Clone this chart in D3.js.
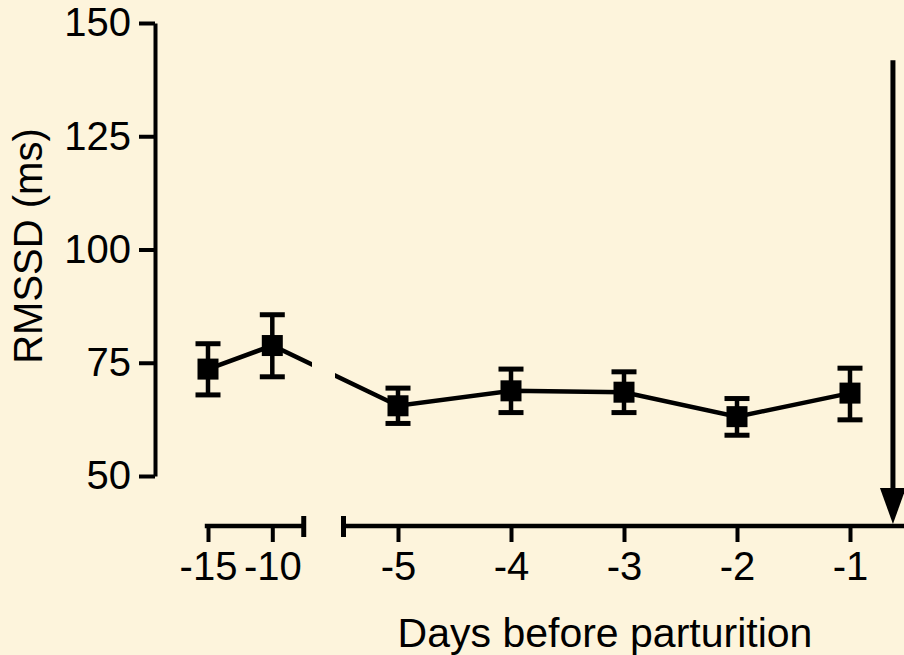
<!DOCTYPE html>
<html>
<head>
<meta charset="utf-8">
<script src="https://cdn.jsdelivr.net/npm/d3@7"></script>
<style>
  html, body { margin: 0; padding: 0; background: #FDF4DC; }
  svg { display: block; font-family: "Liberation Sans", Arial, sans-serif; }
</style>
</head>
<body>
<div id="my_dataviz"></div>
<script>

// data
var days   = [-15, -10, -5, -4, -3, -2, -1];
var means  = [73.6, 78.8, 65.5, 68.8, 68.5, 63.1, 68.3];
var upper  = [79.2, 85.6, 69.4, 73.6, 73.0, 67.1, 73.8];
var lower  = [67.9, 71.9, 61.6, 64.0, 64.0, 59.0, 62.4];
var yTicks = [50, 75, 100, 125, 150];
var xTicksEarly = [-15, -10];
var xTicksLate  = [-5, -4, -3, -2, -1];
var arrowDay = -0.62, arrowTop = 141.8;

var width = 904, height = 655;

var svg = d3.select("#my_dataviz")
  .append("svg")
    .attr("width", width)
    .attr("height", height);

// scales
var y = d3.scaleLinear().domain([50, 150]).range([476, 23]);
var x1 = d3.scaleLinear().domain([-15, -10]).range([208, 272.3]);   // before the break
var x2 = d3.scaleLinear().domain([-5, -1]).range([398, 850]);       // after the break
var seg1 = [-15.25, -7.4], seg2 = [-5.5, -0.4];
function xPos(d) { return d <= -10 ? x1(d) : x2(d); }

var axisY = 526, fontSize = "40px";
var plainFmt = function(d) { return String(d); };   // keep the hyphen minus

// Y axis
var yAxis = svg.append("g")
    .attr("transform", "translate(155,0)")
    .call(d3.axisLeft(y).tickValues(yTicks).tickFormat(plainFmt)
      .tickSize(16).tickSizeOuter(0).tickPadding(8));
yAxis.select(".domain").attr("stroke-width", 4).attr("stroke", "#000");
yAxis.selectAll(".tick line").attr("stroke-width", 4).attr("stroke", "#000");
yAxis.selectAll(".tick text").attr("font-size", fontSize).attr("fill", "#000")
    .attr("font-family", "Liberation Sans, Arial, sans-serif");

// X axes (broken)
function drawX(scale, ticks, seg, capLeft, capRight) {
  var g = svg.append("g").attr("transform", "translate(0," + axisY + ")");
  g.call(d3.axisBottom(scale).tickValues(ticks).tickFormat(plainFmt)
    .tickSize(16).tickPadding(10).tickSizeOuter(0));
  g.select(".domain").remove();
  g.selectAll(".tick line").attr("stroke-width", 4).attr("stroke", "#000");
  g.selectAll(".tick text").attr("font-size", fontSize).attr("fill", "#000")
      .attr("font-family", "Liberation Sans, Arial, sans-serif");
  g.append("line")
      .attr("x1", scale(seg[0])).attr("x2", scale(seg[1]))
      .attr("y1", 0).attr("y2", 0)
      .attr("stroke", "#000").attr("stroke-width", 4.5);
  if (capLeft) g.append("line").attr("x1", scale(seg[0]) + 2).attr("x2", scale(seg[0]) + 2)
      .attr("y1", -10).attr("y2", 11).attr("stroke", "#000").attr("stroke-width", 5);
  if (capRight) g.append("line").attr("x1", scale(seg[1]) - 2).attr("x2", scale(seg[1]) - 2)
      .attr("y1", -10).attr("y2", 11).attr("stroke", "#000").attr("stroke-width", 5);
}
drawX(x1, xTicksEarly, seg1, false, true);
drawX(x2, xTicksLate, seg2, true, false);

// arrow marking parturition
var ax = x2(arrowDay);
svg.append("line")
    .attr("x1", ax).attr("x2", ax)
    .attr("y1", y(arrowTop)).attr("y2", axisY - 30)
    .attr("stroke", "#000").attr("stroke-width", 5);
svg.append("path")
    .attr("d", "M" + (ax - 13) + "," + (axisY - 38) + " L" + (ax + 13) + "," + (axisY - 38) + " L" + ax + "," + (axisY - 2) + " Z")
    .attr("fill", "#000");

// data rows
var data = days.map(function(d, i) {
  return { day: d, mean: means[i], hi: upper[i], lo: lower[i] };
});

// connecting line, interrupted at the axis break
var gapStart = 312, gapEnd = 335;
var defs = svg.append("defs");
defs.append("clipPath").attr("id", "clipA").append("rect")
    .attr("x", 0).attr("y", 0).attr("width", gapStart).attr("height", height);
defs.append("clipPath").attr("id", "clipB").append("rect")
    .attr("x", gapEnd).attr("y", 0).attr("width", width - gapEnd).attr("height", height);

var line = d3.line()
    .x(function(d) { return xPos(d.day); })
    .y(function(d) { return y(d.mean); });

["clipA", "clipB"].forEach(function(c) {
  svg.append("path")
      .datum(data)
      .attr("clip-path", "url(#" + c + ")")
      .attr("d", line)
      .attr("fill", "none")
      .attr("stroke", "#000")
      .attr("stroke-width", 4.5);
});

// error bars
var capW = 25;
var eb = svg.append("g").selectAll("g").data(data).enter().append("g");
eb.append("line")
    .attr("x1", function(d) { return xPos(d.day); })
    .attr("x2", function(d) { return xPos(d.day); })
    .attr("y1", function(d) { return y(d.hi); })
    .attr("y2", function(d) { return y(d.lo); })
    .attr("stroke", "#000").attr("stroke-width", 4.5);
eb.append("line")
    .attr("x1", function(d) { return xPos(d.day) - capW / 2; })
    .attr("x2", function(d) { return xPos(d.day) + capW / 2; })
    .attr("y1", function(d) { return y(d.hi); })
    .attr("y2", function(d) { return y(d.hi); })
    .attr("stroke", "#000").attr("stroke-width", 5);
eb.append("line")
    .attr("x1", function(d) { return xPos(d.day) - capW / 2; })
    .attr("x2", function(d) { return xPos(d.day) + capW / 2; })
    .attr("y1", function(d) { return y(d.lo); })
    .attr("y2", function(d) { return y(d.lo); })
    .attr("stroke", "#000").attr("stroke-width", 5);

// square markers
var ms = 21;
svg.append("g").selectAll("rect").data(data).enter().append("rect")
    .attr("x", function(d) { return xPos(d.day) - ms / 2; })
    .attr("y", function(d) { return y(d.mean) - ms / 2; })
    .attr("width", ms).attr("height", ms)
    .attr("fill", "#000");

// axis titles
svg.append("text")
    .attr("transform", "translate(42,246) rotate(-90)")
    .attr("text-anchor", "middle")
    .attr("font-size", fontSize)
    .text("RMSSD (ms)");
svg.append("text")
    .attr("x", 605).attr("y", 647)
    .attr("text-anchor", "middle")
    .attr("font-size", "41px")
    .text("Days before parturition");

</script>
</body>
</html>
